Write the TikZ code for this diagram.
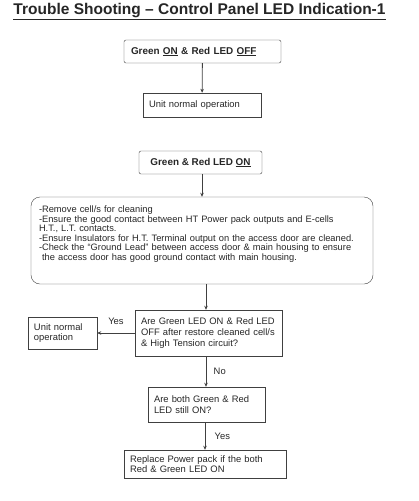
\documentclass[tikz,border=0pt]{standalone}
\usepackage{fontspec}
\setmainfont{Liberation Sans}
\usetikzlibrary{arrows.meta,positioning}

\begin{document}
\begin{tikzpicture}[x=1pt,y=-1pt]
\tikzset{
  titletext/.style={font=\fontsize{15.5}{18}\selectfont\bfseries,text=black!85},
  headbox/.style={draw=black!75,rounded corners=2pt,inner xsep=7pt,align=left,font=\fontsize{9.9}{11}\selectfont\bfseries,text=black!85},
  stepbox/.style={draw=black!75,inner xsep=6pt,align=left,font=\fontsize{9.4}{10.6}\selectfont,text=black!85},
  listbox/.style={draw=black!75,rounded corners=9pt,inner xsep=8pt,align=left,font=\fontsize{9.3}{9.6}\selectfont,text=black!85},
  edgelabel/.style={font=\fontsize{9.4}{11}\selectfont,text=black!85},
  directed/.style={-{Stealth[length=4pt,width=3.5pt]},draw=black!75,thick}
}
\useasboundingbox (0,0) rectangle (418,501);
\node[titletext] (n_title) at (199.5,12) {\underline{Trouble Shooting – Control Panel LED Indication-1}};
\node[headbox,minimum width=157pt,minimum height=23pt,text width=143pt] (n_greenon) at (202.5,51.5) {Green \underline{ON} \& Red LED \underline{OFF}};
\node[stepbox,minimum width=118pt,minimum height=24pt,text width=106pt] (n_normal1) at (202,105) {Unit normal operation};
\node[headbox,minimum width=123pt,minimum height=23pt,align=center] (n_bothon) at (200.5,162.5) {Green \& Red LED \underline{ON}};
\node[listbox,minimum width=342pt,minimum height=87pt,text width=326pt] (n_steps) at (202,240.5) {-Remove cell/s for cleaning\\
-Ensure the good contact between HT Power pack outputs and E-cells\\
H.T., L.T. contacts.\\
-Ensure Insulators for H.T. Terminal output on the access door are cleaned.\\
-Check the “Ground Lead” between access door \& main housing to ensure\\
\ the access door has good ground contact with main housing.\vspace*{13pt}};
\node[stepbox,minimum width=147pt,minimum height=46pt,text width=135pt] (n_restore) at (208.5,333) {Are Green LED ON \& Red LED\\OFF after restore cleaned cell/s\\\& High Tension circuit?};
\node[stepbox,minimum width=69pt,minimum height=32pt,text width=57pt] (n_normal2) at (62.5,333) {Unit normal\\operation};
\node[stepbox,minimum width=117pt,minimum height=35pt,text width=105pt] (n_still) at (206.5,404.5) {Are both Green \& Red\\LED still ON?};
\node[stepbox,minimum width=162pt,minimum height=28pt,text width=150pt] (n_replace) at (205,464) {Replace Power pack if the both\\Red \& Green LED ON};
\draw[directed] (n_greenon) -- (n_normal1);
\draw[directed] (n_bothon.south -| n_steps.north) -- (n_steps.north);
\draw[directed] (n_steps.south -| 206,0) -- (n_restore.north -| 206,0);
\draw[directed] (n_restore.west) -- node[edgelabel,above=5pt] {Yes} (n_normal2.east);
\draw[directed] (n_restore.south -| 206,0) -- node[edgelabel,right=4pt] {No} (n_still.north -| 206,0);
\draw[directed] (n_still.south -| 205,0) -- node[edgelabel,right=6pt] {Yes} (n_replace.north -| 205,0);
\end{tikzpicture}
\end{document}
